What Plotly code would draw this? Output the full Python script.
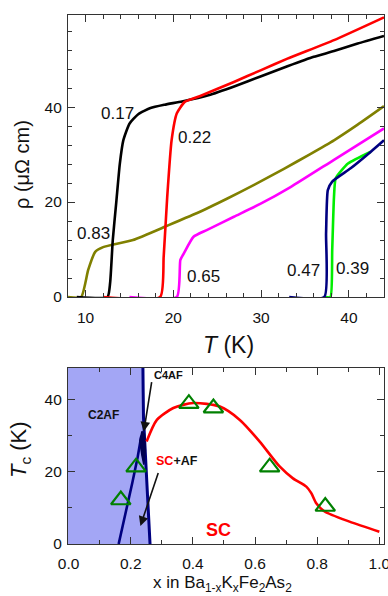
import plotly.graph_objects as go

# ---------------- Top panel data: resistivity vs T ----------------
T_017 = [9.0, 12.5, 12.8, 13.1, 13.5, 13.9, 14.3, 15.0, 16.0, 17.4, 19.0, 21.0, 24.0, 27.0, 30.0, 33.0, 36.0, 38.3, 41.0, 44.0]
R_017 = [0.0, 0.0, 3.0, 12.0, 20.0, 28.0, 33.0, 36.5, 38.5, 39.8, 40.5, 41.2, 42.5, 44.4, 46.5, 48.6, 50.6, 51.8, 53.4, 55.0]

T_022 = [12.0, 18.5, 18.9, 19.3, 19.8, 20.4, 21.3, 23.0, 26.9, 30.0, 33.0, 38.3, 44.0]
R_022 = [0.0, 0.0, 8.5, 21.0, 33.0, 38.7, 41.1, 42.3, 45.3, 47.8, 50.2, 54.1, 58.9]

T_083 = [8.0, 9.5, 10.3, 11.1, 12.0, 15.4, 19.3, 23.1, 26.1, 29.2, 32.6, 35.5, 38.3, 41.0, 44.0]
R_083 = [0.0, 0.0, 5.7, 9.5, 10.5, 12.0, 15.0, 18.0, 20.7, 23.6, 27.0, 30.0, 33.0, 36.3, 40.2]

T_065 = [15.0, 20.4, 20.8, 21.2, 22.3, 23.8, 26.9, 29.9, 33.4, 38.3, 44.0]
R_065 = [0.0, 0.0, 7.8, 9.2, 12.7, 14.1, 16.9, 19.6, 23.2, 28.9, 35.5]

T_039 = [37.3, 37.9, 38.1, 38.3, 38.5, 39.9, 42.5]
R_039 = [0.0, 0.0, 9.9, 21.0, 25.0, 28.1, 30.6]

T_047 = [33.2, 37.2, 37.4, 37.6, 38.1, 40.2, 42.5, 44.0]
R_047 = [0.0, 0.0, 13.4, 22.5, 24.3, 27.1, 30.6, 33.0]

top_labels = ["0.17", "0.22", "0.83", "0.65", "0.47", "0.39"]
top_label_T = [13.6, 22.4, 10.9, 23.4, 34.85, 40.45]
top_label_R = [38.7, 33.7, 13.3, 4.4, 5.5, 6.1]

# ---------------- Bottom panel data: phase diagram ----------------
x_dome = [0.251, 0.284, 0.337, 0.401, 0.487, 0.551, 0.615, 0.679, 0.722, 0.765, 0.781, 0.797, 0.824, 0.904, 1.0]
Tc_dome = [28.4, 34.4, 37.7, 39.1, 38.1, 34.4, 28.4, 21.5, 18.2, 15.9, 14.1, 11.3, 9.0, 6.2, 3.4]

x_tri = [0.168, 0.217, 0.387, 0.466, 0.647, 0.826]
Tc_tri = [12.2, 21.3, 38.9, 37.7, 21.3, 10.4]

x_afb = [0.262, 0.256, 0.250, 0.244, 0.241, 0.240, 0.239]
T_afb = [0.0, 10.0, 20.0, 28.0, 35.0, 42.0, 50.0]

x_af2 = [0.161, 0.185, 0.205, 0.222, 0.234]
T_af2 = [0.0, 9.0, 17.0, 24.0, 30.0]

x_blob = [0.229, 0.236, 0.244, 0.247, 0.242, 0.236, 0.229]
T_blob = [28.5, 31.2, 30.5, 26.0, 22.0, 24.5, 28.5]

FONT = "Arial, Liberation Sans, sans-serif"
FRAME = "#333333"

fig = go.Figure()

def add_line(x, y, color, xa="x", ya="y", w=2.6, sm=0.5):
    fig.add_trace(go.Scatter(x=x, y=y, mode="lines", xaxis=xa, yaxis=ya,
                             line=dict(color=color, width=w, shape="spline", smoothing=sm),
                             showlegend=False, hoverinfo="skip"))

add_line(T_083, R_083, "#808000")
add_line(T_065, R_065, "#ff00ff")
add_line(T_017, R_017, "#000000")
add_line(T_022, R_022, "#ff0000")
add_line(T_039, R_039, "#00ee00")
add_line(T_047, R_047, "#000080")

for txt, tx, ty in zip(top_labels, top_label_T, top_label_R):
    fig.add_annotation(x=tx, y=ty, xref="x", yref="y", text=txt, showarrow=False,
                       xanchor="center", yanchor="middle",
                       font=dict(size=17, color="#111111", family=FONT))

# bottom panel
fill_x = [-0.05] + x_afb + [-0.05]
fill_y = [0.0] + T_afb + [50.0]
fig.add_trace(go.Scatter(x=fill_x, y=fill_y, xaxis="x2", yaxis="y2", mode="lines",
                         fill="toself", fillcolor="#a3a6f5", line=dict(width=0),
                         showlegend=False, hoverinfo="skip"))
fig.add_trace(go.Scatter(x=x_af2, y=T_af2, xaxis="x2", yaxis="y2", mode="lines",
                         line=dict(color="#000080", width=2.6), showlegend=False, hoverinfo="skip"))
fig.add_trace(go.Scatter(x=x_afb, y=T_afb, xaxis="x2", yaxis="y2", mode="lines",
                         line=dict(color="#000080", width=3), showlegend=False, hoverinfo="skip"))
fig.add_trace(go.Scatter(x=x_blob, y=T_blob, xaxis="x2", yaxis="y2", mode="lines",
                         fill="toself", fillcolor="#000050", line=dict(color="#000050", width=1.5),
                         showlegend=False, hoverinfo="skip"))
fig.add_trace(go.Scatter(x=x_dome, y=Tc_dome, xaxis="x2", yaxis="y2", mode="lines",
                         line=dict(color="#ff0000", width=2.6, shape="spline", smoothing=0.7),
                         showlegend=False, hoverinfo="skip"))
fig.add_trace(go.Scatter(x=x_tri, y=Tc_tri, xaxis="x2", yaxis="y2", mode="markers",
                         marker=dict(symbol="triangle-up-open", size=17, color="#008000",
                                     line=dict(width=2.2, color="#008000")),
                         showlegend=False, hoverinfo="skip"))

# annotations bottom panel
fig.add_annotation(x=0.112, y=35.8, xref="x2", yref="y2", text="<b>C2AF</b>", showarrow=False,
                   xanchor="center", yanchor="middle",
                   font=dict(size=12, color="#111111", family=FONT))
fig.add_annotation(x=0.321, y=46.9, xref="x2", yref="y2", text="<b>C4AF</b>", showarrow=False,
                   xanchor="center", yanchor="middle",
                   font=dict(size=11, color="#111111", family=FONT))
fig.add_annotation(x=0.242, y=31.2, ax=0.268, ay=45.3, xref="x2", yref="y2", axref="x2", ayref="y2",
                   text="", showarrow=True, arrowhead=2, arrowsize=1.2, arrowwidth=1.6, arrowcolor="#111111")
fig.add_annotation(x=0.35, y=23.0, xref="x2", yref="y2",
                   text="<b><span style='color:#ff0000'>SC</span>+AF</b>", showarrow=False,
                   xanchor="center", yanchor="middle",
                   font=dict(size=12.5, color="#111111", family=FONT))
fig.add_annotation(x=0.231, y=5.0, ax=0.29, ay=20.1, xref="x2", yref="y2", axref="x2", ayref="y2",
                   text="", showarrow=True, arrowhead=2, arrowsize=1.2, arrowwidth=1.6, arrowcolor="#111111")
fig.add_annotation(x=0.483, y=3.9, xref="x2", yref="y2", text="<b>SC</b>", showarrow=False,
                   xanchor="center", yanchor="middle",
                   font=dict(size=18, color="#ff0000", family=FONT))

# axis titles as annotations
fig.add_annotation(x=22 / 388, y=1 - 165 / 596, xref="paper", yref="paper",
                   text="\u03c1 (\u03bc\u03a9 cm)", textangle=-90, showarrow=False,
                   xanchor="center", yanchor="middle",
                   font=dict(size=20, color="#111111", family=FONT))
fig.add_annotation(x=228 / 388, y=1 - 345 / 596, xref="paper", yref="paper",
                   text="<i>T</i> (K)", showarrow=False,
                   xanchor="center", yanchor="middle",
                   font=dict(size=23, color="#111111", family=FONT))
fig.add_annotation(x=20 / 388, y=1 - 450 / 596, xref="paper", yref="paper",
                   text="<i>T</i><sub>c</sub> (K)", textangle=-90, showarrow=False,
                   xanchor="center", yanchor="middle",
                   font=dict(size=22, color="#111111", family=FONT))
fig.add_annotation(x=222 / 388, y=1 - 584 / 596, xref="paper", yref="paper",
                   text="x in Ba<sub>1-x</sub>K<sub>x</sub>Fe<sub>2</sub>As<sub>2</sub>", showarrow=False,
                   xanchor="center", yanchor="middle",
                   font=dict(size=17, color="#111111", family=FONT))

common = dict(showline=True, linecolor=FRAME, linewidth=1.2, mirror="allticks",
              ticks="inside", ticklen=7, tickwidth=1, tickcolor=FRAME, showgrid=False, zeroline=False,
              automargin=False, ticklabeloverflow="allow",
              tickfont=dict(size=15.5, color="#111111", family=FONT))

fig.update_layout(
    width=388, height=596, margin=dict(l=0, r=0, t=0, b=0),
    paper_bgcolor="white", plot_bgcolor="white",
    xaxis=dict(domain=[68 / 388, 384 / 388], anchor="y", range=[8, 44],
               tickvals=[10, 20, 30, 40], ticklabelstandoff=6,
               minor=dict(dtick=2, tick0=0, ticklen=4, ticks="inside", tickcolor=FRAME),
               **common),
    yaxis=dict(domain=[1 - 297 / 596, 1 - 15 / 596], anchor="x", range=[0, 59.4],
               tickvals=[0, 20, 40], ticklabelstandoff=2,
               minor=dict(dtick=4, tick0=0, ticklen=4, ticks="inside", tickcolor=FRAME),
               **common),
    xaxis2=dict(domain=[68 / 388, 384 / 388], anchor="y2", range=[-0.002, 1.015],
                tickvals=[0, 0.2, 0.4, 0.6, 0.8, 1.0], ticktext=["0.0", "0.2", "0.4", "0.6", "0.8", "1.0"],
                ticklabelstandoff=5,
                minor=dict(dtick=0.1, tick0=0, ticklen=4, ticks="inside", tickcolor=FRAME),
                **common),
    yaxis2=dict(domain=[1 - 544 / 596, 1 - 368 / 596], anchor="x2", range=[0, 48.8],
                tickvals=[0, 20, 40], ticklabelstandoff=2,
                minor=dict(dtick=10, tick0=0, ticklen=4, ticks="inside", tickcolor=FRAME),
                **common),
)

fig.write_html("out.html")
